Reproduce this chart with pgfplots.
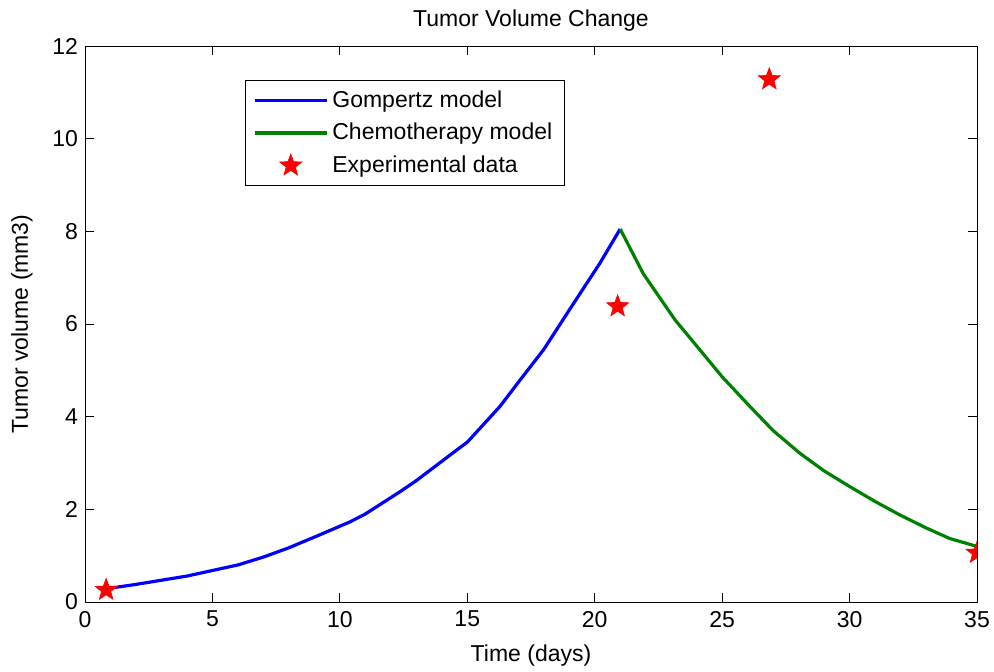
\documentclass[border=0pt]{standalone}
\usepackage{fontspec}
\setmainfont{Liberation Sans}
\usepackage{pgfplots}
\pgfplotsset{compat=1.18}
\definecolor{mblue}{RGB}{0,0,255}
\definecolor{mgreen}{RGB}{0,128,0}
\definecolor{mred}{RGB}{255,0,0}
\pgfdeclareplotmark{fstar}{%
  \pgfpathmoveto{\pgfpointpolar{90}{\pgfplotmarksize}}%
  \pgfpathlineto{\pgfpointpolar{126}{0.42\pgfplotmarksize}}%
  \pgfpathlineto{\pgfpointpolar{162}{\pgfplotmarksize}}%
  \pgfpathlineto{\pgfpointpolar{198}{0.42\pgfplotmarksize}}%
  \pgfpathlineto{\pgfpointpolar{234}{\pgfplotmarksize}}%
  \pgfpathlineto{\pgfpointpolar{270}{0.42\pgfplotmarksize}}%
  \pgfpathlineto{\pgfpointpolar{306}{\pgfplotmarksize}}%
  \pgfpathlineto{\pgfpointpolar{342}{0.42\pgfplotmarksize}}%
  \pgfpathlineto{\pgfpointpolar{18}{\pgfplotmarksize}}%
  \pgfpathlineto{\pgfpointpolar{54}{0.42\pgfplotmarksize}}%
  \pgfpathclose
  \pgfusepathqfillstroke
}
\begin{document}
\begin{tikzpicture}
\path[use as bounding box] (-42.5pt,-34.5pt) rectangle (454.5pt,301pt);
\begin{axis}[
  scale only axis,
  width=446pt, height=278pt,
  xmin=0, xmax=35, ymin=0, ymax=12,
  xtick={0,5,...,35}, ytick={0,2,...,12},
  tick align=inside,
  major tick length=4.5pt,
  axis line style={line width=0.5pt},
  every tick/.style={black, line width=0.5pt},
  /pgf/number format/assume math mode=true,
  tick label style={font=\fontsize{11.5}{13}\selectfont},
  xticklabel style={yshift=-1pt},
  label style={font=\fontsize{11.5}{13}\selectfont},
  title style={font=\fontsize{11.5}{13}\selectfont, yshift=-2pt},
  title={Tumor Volume Change},
  xlabel={Time (days)},
  ylabel={Tumor volume (mm3)},
  xlabel style={yshift=-2pt},
  ylabel style={yshift=3pt},
  legend cell align=left,
  legend style={at={(0.179,0.939)}, anchor=north west,
    font=\fontsize{11.5}{13}\selectfont, draw=black, line width=0.5pt,
    inner xsep=4pt, inner ysep=3pt, row sep=2.5pt},
  legend image code/.code={\draw[mark repeat=2,mark phase=2,#1] plot coordinates {(0pt,0pt) (18pt,0pt) (36pt,0pt)};},
]
\addplot[mblue, line width=1.6pt] coordinates {
(1,0.30) (2,0.38) (3,0.47) (4,0.56) (5,0.68) (6,0.80) (7,0.97) (8,1.17) (8.43,1.27)
(9,1.40) (10.4,1.73) (11,1.90) (12.36,2.38) (13,2.62) (14.32,3.17) (15,3.45)
(16.28,4.22) (17.07,4.79) (18,5.45) (19,6.30) (20.2,7.31) (21,8.05)
};
\addlegendentry{Gompertz model}
\addplot[mgreen, line width=1.6pt] coordinates {
(21,8.05) (21.9,7.09) (23.15,6.09) (24.13,5.44) (25,4.86) (26.09,4.22) (27,3.70)
(28.05,3.21) (29,2.83) (30.01,2.49) (31,2.17) (31.97,1.88) (33,1.60) (33.93,1.37) (35,1.20)
};
\addlegendentry{Chemotherapy model}
\addplot[only marks, mark=fstar, mark size=5.8pt, draw=mred, fill=mred, line width=0.3pt, clip mode=individual] coordinates {
(0.83,0.26) (20.9,6.38) (26.85,11.28) (35,1.06)
};
\addlegendentry{Experimental data}
\end{axis}
\end{tikzpicture}
\end{document}
